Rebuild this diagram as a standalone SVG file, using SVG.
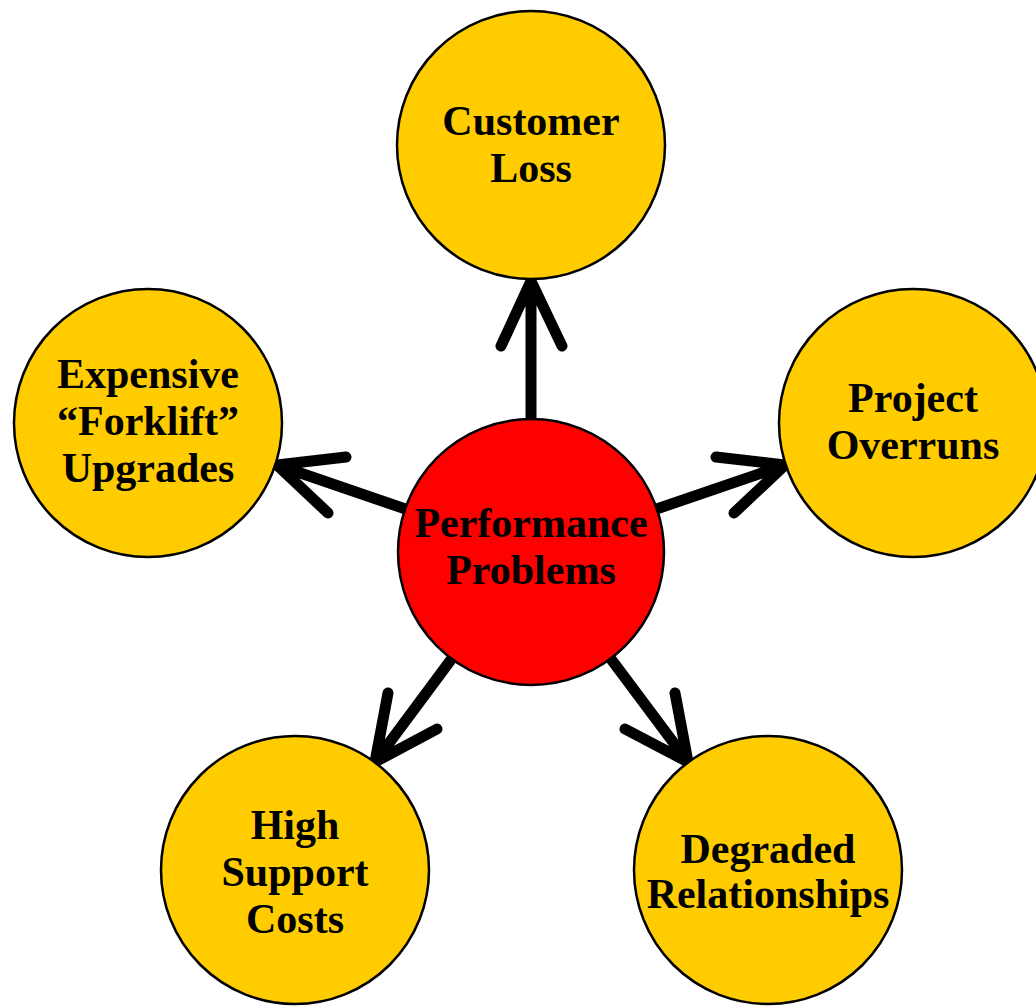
<svg xmlns="http://www.w3.org/2000/svg" width="1036" height="1006" viewBox="0 0 1036 1006">
<style>
.outer{fill:#FFCC00;stroke:#000;stroke-width:2.5}
.core{fill:#FF0000;stroke:#000;stroke-width:2.5}
.lbl{font-family:"Liberation Serif","Times New Roman",serif;font-weight:bold;font-size:42px;fill:#000;text-anchor:middle}
.conn{fill:none;stroke:#000;stroke-width:11;stroke-linecap:round;stroke-linejoin:round}
</style>
<rect width="1036" height="1006" fill="#fff"/>
<g id="connectors">
<path class="conn" d="M531,552 L531,281 M501,346 L531,281 L562,346"/>
<path class="conn" d="M531,552 L785,465 M716,457 L785,465 L734,513"/>
<path class="conn" d="M531,552 L277,465 M346,457 L277,465 L328,513"/>
<path class="conn" d="M531,552 L375,762 M388,693 L375,762 L437,729"/>
<path class="conn" d="M531,552 L688,762 M675,693 L688,762 L625,729"/>
</g>
<g id="customer-loss">
<circle class="outer" cx="531" cy="145" r="134"/>
<text class="lbl" x="531" y="135">Customer</text>
<text class="lbl" x="531" y="182">Loss</text>
</g>
<g id="project-overruns">
<circle class="outer" cx="913" cy="423" r="134"/>
<text class="lbl" x="913" y="412">Project</text>
<text class="lbl" x="913" y="459">Overruns</text>
</g>
<g id="forklift-upgrades">
<circle class="outer" cx="148" cy="423" r="134"/>
<text class="lbl" x="148" y="388">Expensive</text>
<text class="lbl" x="148" y="435">“Forklift”</text>
<text class="lbl" x="148" y="482">Upgrades</text>
</g>
<g id="high-support-costs">
<circle class="outer" cx="295" cy="870" r="134"/>
<text class="lbl" x="295" y="839">High</text>
<text class="lbl" x="295" y="886">Support</text>
<text class="lbl" x="295" y="933">Costs</text>
</g>
<g id="degraded-relationships">
<circle class="outer" cx="768" cy="870" r="134"/>
<text class="lbl" x="768" y="863">Degraded</text>
<text class="lbl" x="768" y="908">Relationships</text>
</g>
<g id="performance-problems">
<circle class="core" cx="531" cy="552" r="133"/>
<text class="lbl" x="531" y="537">Performance</text>
<text class="lbl" x="531" y="584">Problems</text>
</g>
</svg>
